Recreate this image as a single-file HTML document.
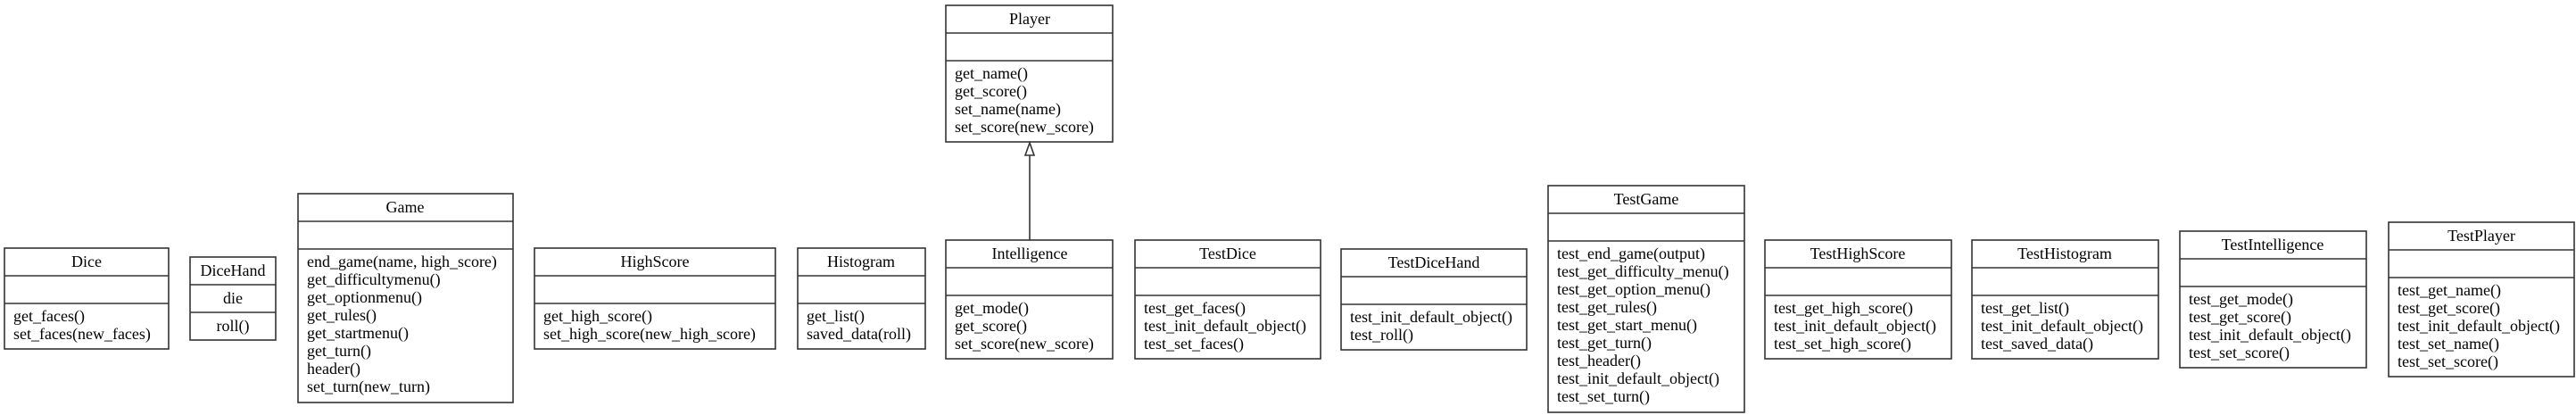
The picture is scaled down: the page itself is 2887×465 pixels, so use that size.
<!DOCTYPE html>
<html><head><meta charset="utf-8"><style>
html,body{margin:0;padding:0;background:#fff;}
svg{display:block;}
text{font-family:"Liberation Serif",serif;font-size:18px;fill:#000;}
rect,line{stroke:#333;stroke-width:1.6;fill:#fff;}
</style></head><body>
<svg width="2887" height="465" viewBox="0 0 2887 465" xmlns="http://www.w3.org/2000/svg">
<!-- Dice -->
<g><rect x="5" y="278" width="184" height="113"/><line x1="5" y1="309" x2="189" y2="309"/><line x1="5" y1="340" x2="189" y2="340"/>
<text x="97" y="299" text-anchor="middle">Dice</text>
<text x="15" y="360">get_faces()</text><text x="15" y="380">set_faces(new_faces)</text></g>
<!-- DiceHand -->
<g><rect x="213" y="288" width="96" height="93"/><line x1="213" y1="319" x2="309" y2="319"/><line x1="213" y1="350" x2="309" y2="350"/>
<text x="261" y="309" text-anchor="middle">DiceHand</text><text x="261" y="340" text-anchor="middle">die</text><text x="261" y="371" text-anchor="middle">roll()</text></g>
<!-- Game -->
<g><rect x="334" y="217" width="241" height="234"/><line x1="334" y1="248" x2="575" y2="248"/><line x1="334" y1="279" x2="575" y2="279"/>
<text x="454" y="238" text-anchor="middle">Game</text>
<text x="344" y="299">end_game(name, high_score)</text><text x="344" y="319">get_difficultymenu()</text><text x="344" y="339">get_optionmenu()</text><text x="344" y="359">get_rules()</text><text x="344" y="379">get_startmenu()</text><text x="344" y="399">get_turn()</text><text x="344" y="419">header()</text><text x="344" y="439">set_turn(new_turn)</text></g>
<!-- HighScore -->
<g><rect x="599" y="278" width="270" height="113"/><line x1="599" y1="309" x2="869" y2="309"/><line x1="599" y1="340" x2="869" y2="340"/>
<text x="734" y="299" text-anchor="middle">HighScore</text>
<text x="609" y="360">get_high_score()</text><text x="609" y="380">set_high_score(new_high_score)</text></g>
<!-- Histogram -->
<g><rect x="894" y="278" width="143" height="113"/><line x1="894" y1="309" x2="1037" y2="309"/><line x1="894" y1="340" x2="1037" y2="340"/>
<text x="965" y="299" text-anchor="middle">Histogram</text>
<text x="904" y="360">get_list()</text><text x="904" y="380">saved_data(roll)</text></g>
<!-- Player -->
<g><rect x="1060" y="6" width="187" height="153"/><line x1="1060" y1="37" x2="1247" y2="37"/><line x1="1060" y1="68" x2="1247" y2="68"/>
<text x="1154" y="27" text-anchor="middle">Player</text>
<text x="1070" y="88">get_name()</text><text x="1070" y="108">get_score()</text><text x="1070" y="128">set_name(name)</text><text x="1070" y="148">set_score(new_score)</text></g>
<!-- inheritance -->
<line x1="1154" y1="269" x2="1154" y2="174"/>
<polygon points="1154,160 1149,174 1159,174" style="fill:#fff;stroke:#333;stroke-width:1.6"/>
<!-- Intelligence -->
<g><rect x="1060" y="269" width="187" height="133"/><line x1="1060" y1="300" x2="1247" y2="300"/><line x1="1060" y1="331" x2="1247" y2="331"/>
<text x="1154" y="290" text-anchor="middle">Intelligence</text>
<text x="1070" y="351">get_mode()</text><text x="1070" y="371">get_score()</text><text x="1070" y="391">set_score(new_score)</text></g>
<!-- TestDice -->
<g><rect x="1272" y="269" width="208" height="133"/><line x1="1272" y1="300" x2="1480" y2="300"/><line x1="1272" y1="331" x2="1480" y2="331"/>
<text x="1376" y="290" text-anchor="middle">TestDice</text>
<text x="1282" y="351">test_get_faces()</text><text x="1282" y="371">test_init_default_object()</text><text x="1282" y="391">test_set_faces()</text></g>
<!-- TestDiceHand -->
<g><rect x="1503" y="279" width="208" height="113"/><line x1="1503" y1="310" x2="1711" y2="310"/><line x1="1503" y1="341" x2="1711" y2="341"/>
<text x="1607" y="300" text-anchor="middle">TestDiceHand</text>
<text x="1513" y="361">test_init_default_object()</text><text x="1513" y="381">test_roll()</text></g>
<!-- TestGame -->
<g><rect x="1735" y="208" width="220" height="254"/><line x1="1735" y1="239" x2="1955" y2="239"/><line x1="1735" y1="270" x2="1955" y2="270"/>
<text x="1845" y="229" text-anchor="middle">TestGame</text>
<text x="1745" y="290">test_end_game(output)</text><text x="1745" y="310">test_get_difficulty_menu()</text><text x="1745" y="330">test_get_option_menu()</text><text x="1745" y="350">test_get_rules()</text><text x="1745" y="370">test_get_start_menu()</text><text x="1745" y="390">test_get_turn()</text><text x="1745" y="410">test_header()</text><text x="1745" y="430">test_init_default_object()</text><text x="1745" y="450">test_set_turn()</text></g>
<!-- TestHighScore -->
<g><rect x="1978" y="269" width="209" height="133"/><line x1="1978" y1="300" x2="2187" y2="300"/><line x1="1978" y1="331" x2="2187" y2="331"/>
<text x="2082" y="290" text-anchor="middle">TestHighScore</text>
<text x="1988" y="351">test_get_high_score()</text><text x="1988" y="371">test_init_default_object()</text><text x="1988" y="391">test_set_high_score()</text></g>
<!-- TestHistogram -->
<g><rect x="2210" y="269" width="209" height="133"/><line x1="2210" y1="300" x2="2419" y2="300"/><line x1="2210" y1="331" x2="2419" y2="331"/>
<text x="2314" y="290" text-anchor="middle">TestHistogram</text>
<text x="2220" y="351">test_get_list()</text><text x="2220" y="371">test_init_default_object()</text><text x="2220" y="391">test_saved_data()</text></g>
<!-- TestIntelligence -->
<g><rect x="2443" y="259" width="209" height="153"/><line x1="2443" y1="290" x2="2652" y2="290"/><line x1="2443" y1="321" x2="2652" y2="321"/>
<text x="2547" y="280" text-anchor="middle">TestIntelligence</text>
<text x="2453" y="341">test_get_mode()</text><text x="2453" y="361">test_get_score()</text><text x="2453" y="381">test_init_default_object()</text><text x="2453" y="401">test_set_score()</text></g>
<!-- TestPlayer -->
<g><rect x="2677" y="249" width="208" height="173"/><line x1="2677" y1="280" x2="2885" y2="280"/><line x1="2677" y1="311" x2="2885" y2="311"/>
<text x="2781" y="270" text-anchor="middle">TestPlayer</text>
<text x="2687" y="331">test_get_name()</text><text x="2687" y="351">test_get_score()</text><text x="2687" y="371">test_init_default_object()</text><text x="2687" y="391">test_set_name()</text><text x="2687" y="411">test_set_score()</text></g>
</svg>
</body></html>
